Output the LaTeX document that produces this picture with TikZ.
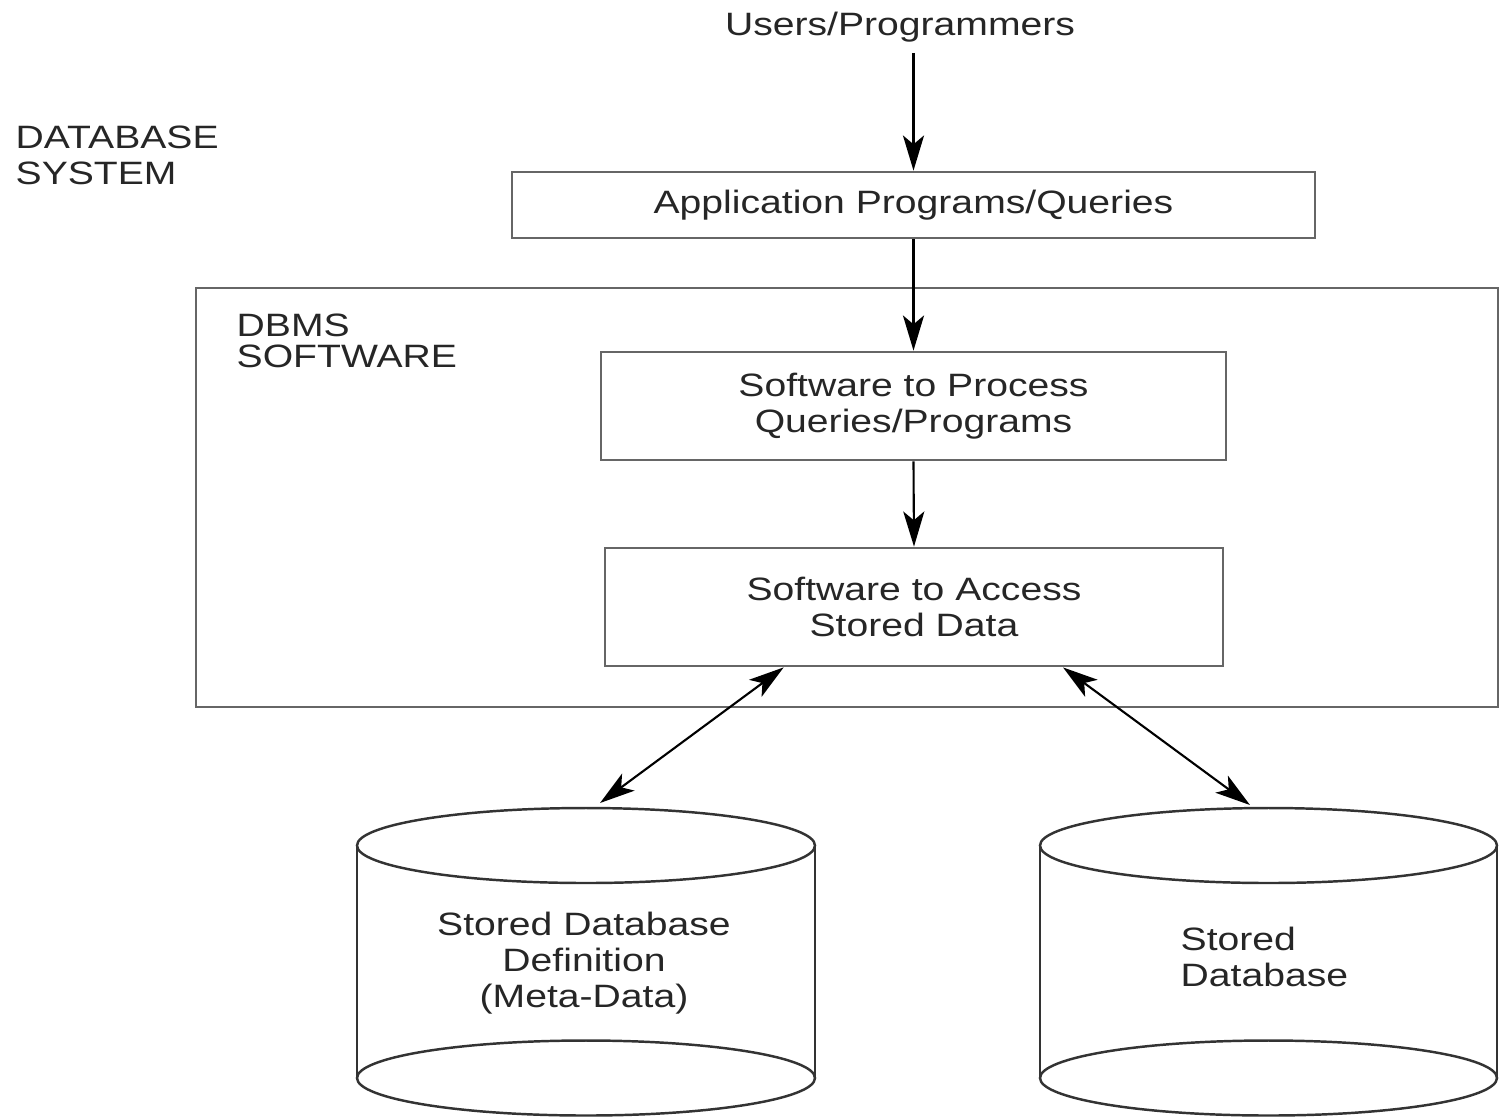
\documentclass[tikz,border=0pt]{standalone}
\usepackage{fontspec}
\setmainfont{Liberation Sans}[FakeStretch=1.21]
\usetikzlibrary{arrows.meta,calc,positioning}

\tikzset{
  box/.style={draw=black!60, line width=0.8pt, inner sep=0pt, align=center},
  flow/.style={-{Stealth[length=10pt,width=6pt,inset=2.5pt]}, line width=0.6pt},
  twoway/.style={{Stealth[length=10pt,width=6pt,inset=2.5pt]}-{Stealth[length=10pt,width=6pt,inset=2.5pt]}, line width=0.6pt},
  heading/.style={align=left, inner sep=0pt, anchor=north west},
  drum/.style={draw=black!80, line width=0.7pt}
}

\begin{document}
\begin{tikzpicture}[font=\fontsize{9.2}{10.2}\selectfont, text=black!85]
  \useasboundingbox (0,0) rectangle (15,-11.16);

  \node[inner xsep=0pt, inner ysep=1mm] (users) at (9.0,-0.27) {Users/Programmers};

  \node[heading] (sys) at (0.15,-1.25) {DATABASE\\SYSTEM};

  \node[box, minimum width=8.03cm, minimum height=0.66cm] (app)
    at (9.135,-2.05) {Application Programs/Queries};

  \node[box, minimum width=13.02cm, minimum height=4.19cm] (dbms)
    at (8.47,-4.975) {};
  \node[heading, font=\fontsize{9.2}{8.9}\selectfont] (soft)
    at (2.36,-3.13) {DBMS\\SOFTWARE};

  \node[box, minimum width=6.25cm, minimum height=1.08cm] (process)
    at (9.135,-4.06) {Software to Process\\Queries/Programs};

  \node[box, minimum width=6.18cm, minimum height=1.18cm] (access)
    at (9.14,-6.07) {Software to Access\\Stored Data};

  \draw[flow] (users.south -| app.north) -- (app.north);
  \draw[flow] (app.south) -- (process.north);
  \draw[flow] (process.south) -- (access.north);

  % left drum
  \draw[drum] (3.57,-8.455) -- (3.57,-10.78);
  \draw[drum] (8.15,-8.455) -- (8.15,-10.78);
  \draw[drum] (5.86,-8.455) ellipse [x radius=2.29, y radius=0.375];
  \draw[drum] (5.86,-10.78) ellipse [x radius=2.29, y radius=0.375];
  \node[align=center, inner sep=0pt] (meta) at (5.84,-9.63)
    {Stored Database\\Definition\\(Meta-Data)};

  % right drum
  \draw[drum] (10.4,-8.455) -- (10.4,-10.78);
  \draw[drum] (14.97,-8.455) -- (14.97,-10.78);
  \draw[drum] (12.685,-8.455) ellipse [x radius=2.285, y radius=0.375];
  \draw[drum] (12.685,-10.78) ellipse [x radius=2.285, y radius=0.375];
  \node[align=left, inner sep=0pt, anchor=west] (store) at (11.8,-9.57)
    {Stored\\Database};

  \coordinate (metatop) at (6.0,-8.03);
  \coordinate (storetop) at (12.5,-8.05);
  \draw[twoway] ($(access.south west)!0.29!(access.south east)$) -- (metatop);
  \draw[twoway] ($(access.south west)!0.74!(access.south east)$) -- (storetop);
\end{tikzpicture}
\end{document}
